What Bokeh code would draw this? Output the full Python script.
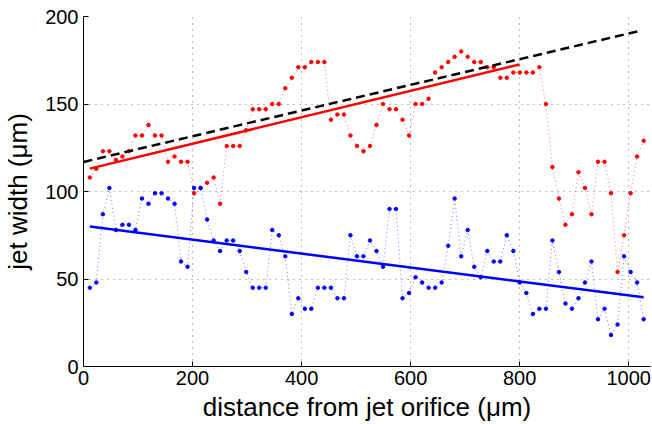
import numpy as np
from bokeh.plotting import figure
from bokeh.models import Range1d, FixedTicker
from bokeh.embed import file_html
from bokeh.resources import INLINE

# distance from jet orifice (um)
x_um = [11.6, 23.6, 35.5, 47.5, 59.4, 71.4, 83.3, 95.3, 107.2, 119.2,
        131.1, 143.1, 155.0, 167.0, 178.9, 190.9, 202.8, 214.8, 226.7, 238.7,
        250.6, 262.6, 274.5, 286.5, 298.4, 310.4, 322.3, 334.3, 346.2, 358.2,
        370.1, 382.1, 394.0, 406.0, 417.9, 429.9, 441.8, 453.8, 465.7, 477.7,
        489.6, 501.6, 513.5, 525.5, 537.4, 549.4, 561.3, 573.3, 585.2, 597.2,
        609.1, 621.1, 633.0, 645.0, 656.9, 668.9, 680.8, 692.8, 704.7, 716.7,
        728.6, 740.6, 752.5, 764.5, 776.4, 788.4, 800.3, 812.3, 824.2, 836.2,
        848.1, 860.1, 872.0, 884.0, 895.9, 907.9, 919.8, 931.8, 943.7, 955.7,
        967.6, 979.6, 991.5, 1003.5, 1015.4, 1027.4]

red_width = [108, 113, 123, 123, 118, 120, 123, 132, 132, 138,
             132, 132, 117, 120, 117, 117, 99, 102, 105, 108,
             93, 126, 126, 126, 135, 147, 147, 147, 150, 150,
             159, 165, 171, 171, 174, 174, 174, 141, 144, 144,
             132, 126, 123, 126, 138, 150, 147, 147, 141, 132,
             150, 150, 153, 168, 171, 174, 177, 180, 177, 174,
             174, 171, 171, 165, 165, 168, 168, 168, 168, 171,
             150, 114, 96, 81, 87, 111, 102, 87, 117, 117,
             99, 54, 75, 99, 120, 129]

blue_width = [45, 48, 87, 102, 78, 81, 81, 78, 96, 93,
              99, 99, 96, 93, 60, 57, 102, 102, 84, 72,
              66, 72, 72, 66, 54, 45, 45, 45, 78, 75,
              63, 30, 39, 33, 33, 45, 45, 45, 39, 39,
              75, 63, 63, 72, 66, 57, 90, 90, 39, 42,
              51, 48, 45, 45, 48, 69, 96, 63, 78, 57,
              51, 66, 60, 60, 75, 66, 48, 42, 30, 33,
              33, 72, 54, 36, 33, 39, 48, 60, 27, 33,
              18, 24, 63, 54, 48, 27]

# linear fits: [intercept, slope], [x_start, x_end]
red_fit = [112.2, 0.0755]
red_fit_range = [11.6, 800.0]
blue_fit = [80.4, -0.0397]
blue_fit_range = [11.6, 1027.4]
black_fit = [116.9, 0.0734]
black_fit_range = [0.0, 1020.0]

x_ticks = [0, 200, 400, 600, 800, 1000]
y_ticks = [0, 50, 100, 150, 200]

FONT = "Liberation Sans"

p = figure(width=652, height=424, output_backend="svg", toolbar_location=None,
           x_range=Range1d(0, 1040), y_range=Range1d(0, 200),
           min_border_left=81, min_border_right=2, min_border_top=16, min_border_bottom=57)
p.outline_line_color = None
p.background_fill_color = "white"

for ax, ticks in ((p.xaxis, x_ticks), (p.yaxis, y_ticks)):
    ax.ticker = FixedTicker(ticks=ticks)
    ax.major_tick_in = 5
    ax.major_tick_out = 0
    ax.minor_tick_in = 0
    ax.minor_tick_out = 0
    ax.axis_line_color = "black"
    ax.axis_line_width = 1
    ax.major_tick_line_color = "black"
    ax.major_label_text_font = FONT
    ax.major_label_text_font_size = "20px"
    ax.major_label_text_color = "black"
    ax.axis_label_text_font = FONT
    ax.axis_label_text_font_size = "26px"
    ax.axis_label_text_font_style = "normal"
    ax.axis_label_text_color = "black"

p.xaxis.axis_label = "distance from jet orifice (\u03bcm)"
p.yaxis.axis_label = "jet width (\u03bcm)"
p.xaxis.major_label_standoff = 4
p.yaxis.major_label_standoff = 5
p.xaxis.axis_label_standoff = 4
p.yaxis.axis_label_standoff = 9

for g in (p.xgrid, p.ygrid):
    g.grid_line_color = "#7a7a7a"
    g.grid_line_dash = "1 5"
    g.grid_line_width = 1

# data: dotted lines with point markers
p.line(x_um, red_width, line_color="red", line_dash="1 3", line_width=1, line_alpha=0.55)
p.scatter(x_um, red_width, size=3.5, color="red", marker="circle")
p.line(x_um, blue_width, line_color="blue", line_dash="1 3", line_width=1, line_alpha=0.55)
p.scatter(x_um, blue_width, size=3.5, color="blue", marker="circle")

def fit_line(coef, rng):
    xs = np.array(rng)
    return xs, coef[0] + coef[1] * xs

xs, ys = fit_line(black_fit, black_fit_range)
p.line(xs, ys, line_color="black", line_width=2.5, line_dash="9 5")
xs, ys = fit_line(red_fit, red_fit_range)
p.line(xs, ys, line_color="red", line_width=2.5)
xs, ys = fit_line(blue_fit, blue_fit_range)
p.line(xs, ys, line_color="blue", line_width=2.5)

open("out.html", "w").write(file_html(p, INLINE))
